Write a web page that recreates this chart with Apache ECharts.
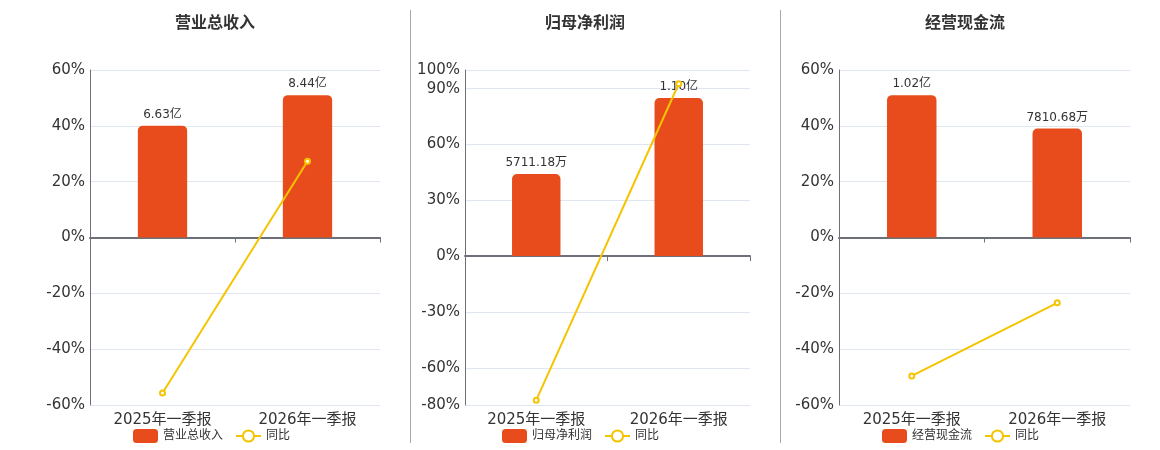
<!DOCTYPE html>
<html>
<head>
<meta charset="utf-8">
<script src="https://cdn.jsdelivr.net/npm/echarts@6/dist/echarts.min.js"></script>
<style>
  html, body { margin: 0; padding: 0; background: #fff; }
  #chart { width: 1160px; height: 450px; }
</style>
</head>
<body>
<div id="chart"></div>
<script>
var categories = ['2025年一季报', '2026年一季报']
var titles = ['营业总收入', '归母净利润', '经营现金流']

// 金额(元) 和 同比(%)
var revenue = [6.63e8, 8.44e8]
var revenueYoy = [-55.7, 27.3]
var netProfit = [5711.18e4, 1.10e8]
var netProfitYoy = [-77.4, 92.6]
var cashFlow = [1.02e8, 7810.68e4]
var cashFlowYoy = [-49.6, -23.4]

var pctMin = [-60, -80, -60]
var pctMax = [60, 100, 60]

var amounts = [revenue, netProfit, cashFlow]
var yoys = [revenueYoy, netProfitYoy, cashFlowYoy]

// 布局
var grids = [
    { left: 90, top: 70, width: 290, height: 335 },
    { left: 465, top: 70, width: 285, height: 335 },
    { left: 839, top: 70, width: 291, height: 335 }
]
var centers = [210, 580, 960]
var legendLeft = [128, 497, 877]

function fmtAmount(v) {
    if (Math.abs(v) >= 1e8) return (v / 1e8).toFixed(2) + '亿'
    return (v / 1e4).toFixed(2) + '万'
}

var myChart = echarts.init(document.getElementById('chart'))

var option = {
    animation: false,
    textStyle: { fontFamily: '"DejaVu Sans", "Noto Sans CJK SC", sans-serif' },
    title: [],
    legend: [],
    grid: grids,
    xAxis: [],
    yAxis: [],
    series: [],
    graphic: [
        { type: 'line', shape: { x1: 410.5, y1: 10, x2: 410.5, y2: 443 }, style: { stroke: '#aaa', lineWidth: 1 } },
        { type: 'line', shape: { x1: 780.5, y1: 10, x2: 780.5, y2: 443 }, style: { stroke: '#aaa', lineWidth: 1 } }
    ]
}

for (var i = 0; i < 3; i++) {
    option.title.push({
        text: titles[i],
        left: centers[i],
        textAlign: 'center',
        top: 11,
        textStyle: { fontSize: 16, fontWeight: 'bold', color: '#333' }
    })
    option.legend.push({
        data: [titles[i], '同比'],
        left: legendLeft[i],
        top: 424,
        itemWidth: 25,
        itemHeight: 14,
        itemGap: 12,
        textStyle: { fontSize: 12, color: '#333' }
    })
    option.xAxis.push({
        type: 'category',
        gridIndex: i,
        data: categories,
        axisLine: { onZero: true, onZeroAxisIndex: i * 2, lineStyle: { color: '#6E7079', width: 2 } },
        axisTick: { show: true, lineStyle: { color: '#6E7079' } },
        axisLabel: { show: false }
    })
    option.yAxis.push({
        type: 'value',
        gridIndex: i,
        min: pctMin[i],
        max: pctMax[i],
        splitNumber: 5,
        axisLine: { show: true, lineStyle: { color: '#6E7079' } },
        axisTick: { show: false },
        axisLabel: { formatter: '{value}%', fontSize: 15, color: '#333', margin: 5 },
        splitLine: { lineStyle: { color: '#E0E6F1' } }
    })
    var barMax = Math.max.apply(null, amounts[i]) / 0.85
    option.yAxis.push({
        type: 'value',
        gridIndex: i,
        min: barMax * pctMin[i] / pctMax[i],
        max: barMax,
        show: false,
        splitLine: { show: false }
    })
    option.series.push({
        name: titles[i],
        type: 'bar',
        xAxisIndex: i,
        yAxisIndex: i * 2 + 1,
        data: amounts[i],
        barWidth: '34%',
        itemStyle: { color: '#E84C1D', borderRadius: [5, 5, 0, 0] },
        label: {
            show: true,
            position: 'top',
            fontSize: 12,
            color: '#333',
            formatter: function (p) { return fmtAmount(p.value) }
        }
    })
    option.series.push({
        name: '同比',
        type: 'line',
        xAxisIndex: i,
        yAxisIndex: i * 2,
        data: yoys[i],
        symbol: 'emptyCircle',
        symbolSize: 5,
        itemStyle: { color: '#F5C400' },
        lineStyle: { color: '#F5C400', width: 2 },
        z: 5
    })
}

// 类目标签放在网格底部
for (var j = 0; j < 3; j++) {
    option.xAxis.push({
        type: 'category',
        gridIndex: j,
        position: 'bottom',
        data: categories,
        axisLine: { show: false },
        axisTick: { show: false },
        axisLabel: { fontSize: 15, color: '#333', margin: 8 }
    })
}

myChart.setOption(option)
</script>
</body>
</html>
